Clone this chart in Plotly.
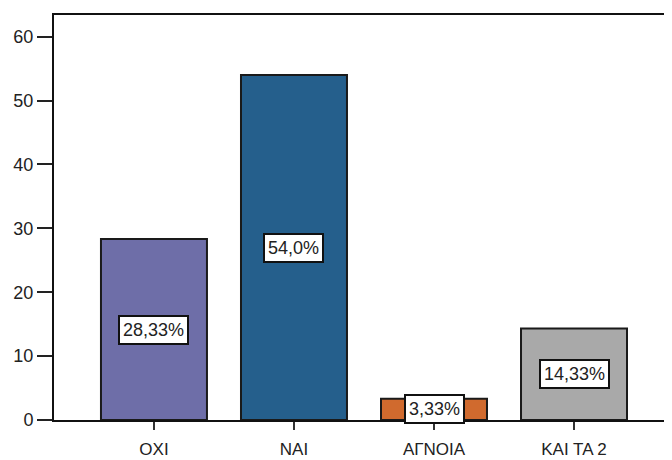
import plotly.graph_objects as go

categories = ["ΟΧΙ", "ΝΑΙ", "ΑΓΝΟΙΑ", "ΚΑΙ ΤΑ 2"]
values = [28.33, 54.0, 3.33, 14.33]
labels = ["28,33%", "54,0%", "3,33%", "14,33%"]
colors = ["#6e6ea8", "#255f8c", "#d06a2e", "#a9a9a9"]
y_ticks = [0, 10, 20, 30, 40, 50, 60]

fig = go.Figure()
fig.add_trace(go.Bar(
    x=list(range(len(categories))),
    y=values,
    width=0.757,
    marker=dict(color=colors, line=dict(color="#1a1a1a", width=2)),
    hoverinfo="skip",
))

for i, (v, t) in enumerate(zip(values, labels)):
    fig.add_annotation(
        x=i, y=v / 2, text=t, showarrow=False,
        font=dict(family="Liberation Sans, Arial", size=18, color="#222"),
        bgcolor="white", bordercolor="#111", borderwidth=2, borderpad=3,
    )

# The page body has an 8px default margin, so margins are offset by 8px.
fig.update_layout(
    width=672, height=460,
    margin=dict(l=46, r=0, t=7, b=48),
    plot_bgcolor="white", paper_bgcolor="white",
    showlegend=False,
    font=dict(family="Liberation Sans, Arial", size=16, color="#222"),
    xaxis=dict(
        tickmode="array",
        tickvals=list(range(len(categories))),
        ticktext=categories,
        range=[-0.714, 3.757],
        showline=True, linecolor="#111", linewidth=2, mirror=True,
        ticks="outside", ticklen=8, tickwidth=2, tickcolor="#333",
        showgrid=False, zeroline=False, automargin=False,
        ticklabelstandoff=5,
        tickfont=dict(size=17),
    ),
    yaxis=dict(
        range=[0, 63.4],
        tickvals=y_ticks,
        showline=True, linecolor="#111", linewidth=2,
        ticks="outside", ticklen=15, tickwidth=2, tickcolor="#222",
        showgrid=False, zeroline=False, automargin=False,
        tickfont=dict(size=18),
    ),
)

fig.write_html("out.html")
